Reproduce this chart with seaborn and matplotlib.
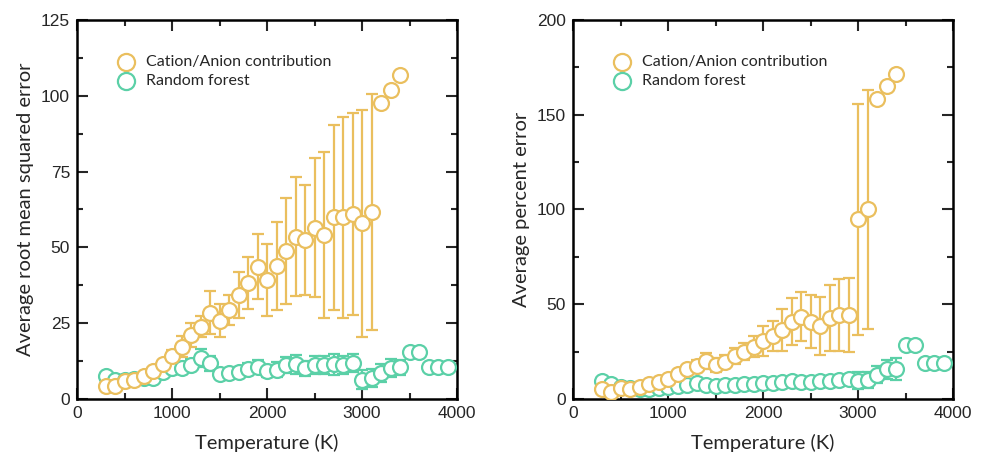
import numpy as np
import matplotlib
matplotlib.use("Agg")
import matplotlib.pyplot as plt
from matplotlib.ticker import MultipleLocator
import seaborn as sns

# temperatures (K)
temp_ca = [300, 400, 500, 600, 700, 800, 900, 1000, 1100, 1200, 1300, 1400, 1500, 1600,
           1700, 1800, 1900, 2000, 2100, 2200, 2300, 2400, 2500, 2600, 2700, 2800, 2900,
           3000, 3100, 3200, 3300, 3400]
temp_rf = temp_ca + [3500, 3600, 3700, 3800, 3900]

# left panel: average RMSE
rmse_ca = [4.4, 4.3, 5.9, 6.3, 7.6, 9.3, 11.5, 14.2, 17.3, 21.2, 23.9, 28.5, 25.8, 29.4,
           34.3, 38.2, 43.7, 39.2, 43.9, 48.8, 53.5, 52.4, 56.5, 54.1, 59.9, 59.9, 60.9,
           57.9, 61.6, 97.5, 101.9, 106.9]
rmse_ca_err = [0, 0, 0, 0, 0.5, 1, 1.5, 2, 3.5, 4, 3.5, 7, 5.5, 5, 7.7, 8.6, 10.7, 11.8,
               14.5, 17.4, 19.6, 18.1, 23, 27.4, 30.4, 33.2, 33.3, 37.3, 38.9, 0, 0, 0]
rmse_rf = [7.5, 6.4, 6.3, 6.5, 6.8, 6.8, 9.0, 10.1, 10.1, 11.2, 13.4, 11.8, 8.2, 8.5,
           9.0, 9.8, 10.7, 9.1, 9.6, 11.2, 11.4, 10.1, 11.2, 11.2, 11.5, 11.2, 11.8,
           6.3, 6.8, 8.5, 10.1, 10.5, 15.6, 15.6, 10.7, 10.7, 10.7]
rmse_rf_err = [0, 0, 0, 0, 0, 0.5, 1, 1.5, 2, 2, 3, 2.5, 1.5, 1.5, 1.5, 2, 2, 2, 2.5,
               2.5, 3, 2.5, 3, 3, 3.5, 3, 3, 3.1, 3, 3, 3, 2.5, 0, 0, 0, 0, 0]

# right panel: average percent error
pct_ca = [5.1, 3.9, 5.6, 5.1, 6.2, 7.9, 9.1, 10.4, 13.2, 15.7, 17.4, 20.1, 17.9, 19.7,
          22.7, 25.0, 27.6, 30.5, 33.2, 36.4, 40.8, 43.4, 40.8, 38.5, 42.6, 44.3, 44.3,
          94.8, 100.1, 158.3, 165.2, 171.3]
pct_ca_err = [0, 0, 0, 0, 0.5, 1, 1, 1.5, 2, 2.5, 3, 4.3, 3.5, 3.5, 4, 4.4, 5.5, 7.8,
              8, 11, 12.3, 13, 13.9, 15.4, 17.3, 19.2, 19.4, 61, 63, 0, 0, 0]
pct_rf = [9.5, 7.9, 6.5, 5.8, 5.5, 5.3, 5.6, 6.2, 7.0, 7.6, 8.2, 7.6, 7.0, 7.2,
          7.6, 7.9, 8.1, 8.3, 8.3, 9.1, 9.5, 9.1, 9.1, 9.5, 9.7, 10.0, 10.4,
          9.7, 10.0, 12.7, 15.7, 15.7, 28.5, 28.5, 19.2, 19.2, 19.2]
pct_rf_err = [0, 0, 0, 0, 0, 0, 0, 0.5, 0.5, 0.5, 0.5, 0.5, 0.5, 0.5, 0.5, 0.5, 0.5,
              1, 1, 1, 1, 1, 1, 1, 1.5, 1.5, 2, 4.5, 4, 4.5, 5, 5.7, 0, 0, 0, 0, 0]

labels = ["Cation/Anion contribution", "Random forest"]
ylabels = ["Average root mean squared error", "Average percent error"]

ORANGE = "#EABF5E"
GREEN = "#5BD0A7"

sns.set_theme(style="ticks")
plt.rcParams["font.family"] = ["Liberation Sans", "DejaVu Sans"]

fig = plt.figure(figsize=(9.84, 4.54), dpi=100)
ax1 = fig.add_axes([77 / 984, 55 / 454, 380 / 984, 379 / 454])
ax2 = fig.add_axes([573 / 984, 55 / 454, 380 / 984, 379 / 454])

panels = [
    (ax1, rmse_ca, rmse_ca_err, rmse_rf, rmse_rf_err, 125, 25, 12.5),
    (ax2, pct_ca, pct_ca_err, pct_rf, pct_rf_err, 200, 50, 25),
]

for i, (ax, ca, ca_err, rf, rf_err, ymax, ymaj, ymin) in enumerate(panels):
    for t, v, e, c, lab, z in [(temp_rf, rf, rf_err, GREEN, labels[1], 2),
                               (temp_ca, ca, ca_err, ORANGE, labels[0], 4)]:
        ax.errorbar(t, v, yerr=e, fmt="none", ecolor=c, elinewidth=1.6,
                    capsize=4.5, capthick=1.6, zorder=z)
        sns.scatterplot(x=t, y=v, ax=ax, marker="o", s=115, facecolor="white",
                        edgecolor=c, linewidth=1.6, label=lab, zorder=z + 1)

    ax.set_xlim(0, 4000)
    ax.set_ylim(0, ymax)
    ax.xaxis.set_major_locator(MultipleLocator(1000))
    ax.xaxis.set_minor_locator(MultipleLocator(500))
    ax.yaxis.set_major_locator(MultipleLocator(ymaj))
    ax.yaxis.set_minor_locator(MultipleLocator(ymin))
    ax.tick_params(which="both", direction="in", top=True, right=True, width=1.5,
                   labelsize=12.5, pad=5)
    ax.tick_params(which="major", length=8)
    ax.tick_params(which="minor", length=4.5)
    for sp in ax.spines.values():
        sp.set_linewidth(1.8)
        sp.set_color("black")

    ax.set_xlabel("Temperature (K)", family=["Lato", "DejaVu Sans"], fontsize=14.5,
                  labelpad=9)
    ax.set_ylabel(ylabels[i], family=["Lato", "DejaVu Sans"], fontsize=14.5, labelpad=5)

    # legend: orange first
    handles, labs = ax.get_legend_handles_labels()
    order = [labs.index(labels[0]), labs.index(labels[1])]
    ax.legend([handles[k] for k in order], [labs[k] for k in order],
              loc="upper left", bbox_to_anchor=(0.05, 0.945), frameon=False,
              handletextpad=0.25, labelspacing=0.3, markerscale=1.15,
              prop={"family": ["Lato", "DejaVu Sans"], "size": 11.5})

fig.savefig("out.png", dpi=100)
